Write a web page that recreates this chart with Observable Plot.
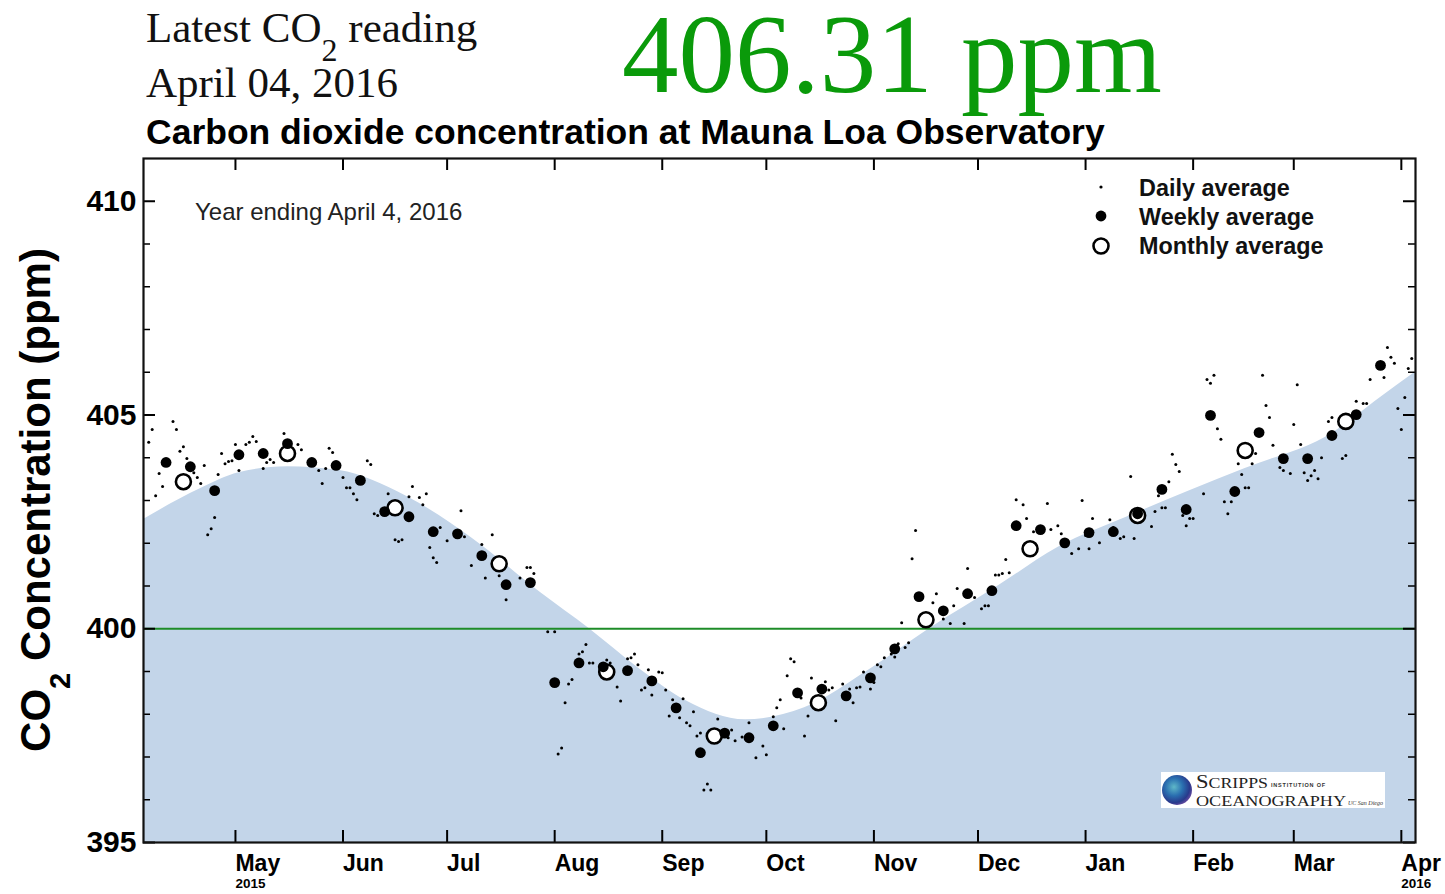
<!DOCTYPE html>
<html><head><meta charset="utf-8">
<script src="https://cdn.jsdelivr.net/npm/d3@7"></script>
<script src="https://cdn.jsdelivr.net/npm/@observablehq/plot@0.6"></script>
<style>
html,body{margin:0;padding:0;background:#fff;}
#wrap{position:relative;width:1445px;height:894px;overflow:hidden;}
#chart{position:absolute;left:0;top:0;}
#overlay{position:absolute;left:0;top:0;}
</style></head>
<body>
<div id="wrap">
<div id="chart"></div>
<svg id="overlay" width="1445" height="894" xmlns="http://www.w3.org/2000/svg">
  <defs>
    <radialGradient id="globe" cx="40%" cy="40%" r="65%">
      <stop offset="0%" stop-color="#5fb8c8"/>
      <stop offset="45%" stop-color="#2a6fb0"/>
      <stop offset="80%" stop-color="#283a8c"/>
      <stop offset="100%" stop-color="#6a4aa0"/>
    </radialGradient>
  </defs>
  <g font-family="'Liberation Serif','Times New Roman',serif" fill="#111">
    <text x="146" y="42" font-size="43">Latest CO<tspan font-size="32" dy="19">2</tspan><tspan dy="-19"> reading</tspan></text>
    <text x="146" y="97" font-size="43">April 04, 2016</text>
    <text x="622" y="92" font-size="113" fill="#0a9a0a">406.31 ppm</text>
  </g>
  <text x="146" y="144" font-family="'Liberation Sans',Arial,sans-serif" font-weight="bold" font-size="35.5" fill="#000">Carbon dioxide concentration at Mauna Loa Observatory</text>
  <text transform="translate(50,500) rotate(-90)" text-anchor="middle" font-family="'Liberation Sans',Arial,sans-serif" font-weight="bold" font-size="42" fill="#000">CO<tspan font-size="29" dy="20">2</tspan><tspan dy="-20"> Concentration (ppm)</tspan></text>
  <text x="195" y="220" font-family="'Liberation Sans',Arial,sans-serif" font-size="24" fill="#222">Year ending April 4, 2016</text>
  <g font-family="'Liberation Sans',Arial,sans-serif" font-weight="bold" font-size="23.4" fill="#111">
    <circle cx="1101" cy="187" r="1.6" fill="#000"/>
    <text x="1139" y="196">Daily average</text>
    <circle cx="1101" cy="216" r="5.4" fill="#000"/>
    <text x="1139" y="225">Weekly average</text>
    <circle cx="1101" cy="246" r="7.5" fill="#fff" stroke="#000" stroke-width="2.6"/>
    <text x="1139" y="254">Monthly average</text>
  </g>
  <g>
    <rect x="1161" y="772" width="224" height="36" fill="#fff"/>
    <circle cx="1177" cy="790" r="15" fill="url(#globe)"/>
    <text x="1196" y="788" font-family="'Liberation Serif',serif" font-size="19" fill="#222" textLength="72" lengthAdjust="spacingAndGlyphs">S<tspan font-size="15">CRIPPS</tspan></text>
    <text x="1271" y="787" font-family="'Liberation Sans',sans-serif" font-weight="bold" font-size="5.5" fill="#333" letter-spacing="0.8">INSTITUTION OF</text>
    <text x="1196" y="806" font-family="'Liberation Serif',serif" font-size="15.5" fill="#222" textLength="150" lengthAdjust="spacingAndGlyphs">OCEANOGRAPHY</text>
    <text x="1348" y="805" font-family="'Liberation Serif',serif" font-style="italic" font-size="6" fill="#333">UC San Diego</text>
  </g>
</svg>
</div>
<script>
// ---------- data ----------
const monthTicks = ["2015-05-01","2015-06-01","2015-07-01","2015-08-01","2015-09-01","2015-10-01","2015-11-01","2015-12-01","2016-01-01","2016-02-01","2016-03-01","2016-04-01"];
const yearLabelDates = ["2015-05-01","2016-04-01"];
const yearLabelTexts = ["2015","2016"];
const yMajorTicks = [395, 400, 405, 410];
const yMinorTicks = [396,397,398,399,401,402,403,404,406,407,408,409];
const thresholdPpm = 400;

const weeklyDates = ["2015-04-11","2015-04-18","2015-04-25","2015-05-02","2015-05-09","2015-05-16","2015-05-23","2015-05-30","2015-06-06","2015-06-13","2015-06-20","2015-06-27","2015-07-04","2015-07-11","2015-07-18","2015-07-25","2015-08-01","2015-08-08","2015-08-15","2015-08-22","2015-08-29","2015-09-05","2015-09-12","2015-09-19","2015-09-26","2015-10-03","2015-10-10","2015-10-17","2015-10-24","2015-10-31","2015-11-07","2015-11-14","2015-11-21","2015-11-28","2015-12-05","2015-12-12","2015-12-19","2015-12-26","2016-01-02","2016-01-09","2016-01-16","2016-01-23","2016-01-30","2016-02-06","2016-02-13","2016-02-20","2016-02-27","2016-03-05","2016-03-12","2016-03-19","2016-03-26"];
const weeklyPpm = [403.89,403.79,403.23,404.07,404.10,404.33,403.89,403.82,403.47,402.74,402.62,402.27,402.22,401.71,401.03,401.08,398.74,399.20,399.11,399.02,398.78,398.15,397.10,397.56,397.45,397.73,398.50,398.59,398.43,398.85,399.53,400.75,400.42,400.82,400.89,402.41,402.32,402.01,402.25,402.27,402.69,403.26,402.79,404.99,403.21,404.59,403.98,403.98,404.52,405.01,406.16];

const monthlyDates = ["2015-04-16","2015-05-16","2015-06-16","2015-07-16","2015-08-16","2015-09-16","2015-10-16","2015-11-16","2015-12-16","2016-01-16","2016-02-16","2016-03-16"];
const monthlyPpm = [403.44,404.10,402.83,401.52,398.99,397.49,398.27,400.21,401.87,402.65,404.17,404.85];

const curveDates = ["2015-04-04","2015-04-21","2015-05-02","2015-05-16","2015-05-31","2015-06-19","2015-07-08","2015-07-28","2015-08-11","2015-08-25","2015-09-08","2015-09-25","2015-10-12","2015-10-31","2015-11-17","2015-12-07","2015-12-24","2016-01-14","2016-01-31","2016-02-16","2016-03-12","2016-03-26","2016-04-05"];
const curvePpm = [402.53,403.28,403.65,403.79,403.70,403.11,402.13,400.84,400.00,399.09,398.31,397.87,398.15,399.06,400.00,401.01,401.90,402.65,403.23,403.75,404.57,405.41,406.00];

const daily = [
["2015-04-06",404.36],["2015-04-07",404.66],["2015-04-08",403.11],["2015-04-09",403.63],["2015-04-10",403.33],
["2015-04-13",404.85],["2015-04-14",404.66],["2015-04-15",404.15],["2015-04-16",404.26],["2015-04-17",403.98],
["2015-04-19",403.65],["2015-04-20",403.54],["2015-04-21",403.40],["2015-04-22",403.82],["2015-04-23",402.20],
["2015-04-24",402.34],["2015-04-25",402.60],["2015-04-26",403.61],["2015-04-27",404.10],["2015-04-28",403.86],
["2015-04-29",403.91],["2015-04-30",403.93],["2015-05-01",404.31],["2015-05-02",403.70],["2015-05-04",404.31],
["2015-05-05",404.36],["2015-05-06",404.50],["2015-05-07",404.38],["2015-05-09",403.75],["2015-05-10",403.89],
["2015-05-11",403.96],["2015-05-12",403.89],["2015-05-15",404.57],["2015-05-19",404.31],["2015-05-20",404.19],
["2015-05-25",403.70],["2015-05-26",403.40],["2015-05-27",403.75],["2015-05-28",404.22],["2015-05-29",404.12],
["2015-06-01",403.54],["2015-06-02",403.30],["2015-06-03",403.30],["2015-06-04",403.16],["2015-06-05",403.02],
["2015-06-08",403.93],["2015-06-09",403.84],["2015-06-10",402.69],["2015-06-11",402.65],["2015-06-14",403.16],
["2015-06-16",402.08],["2015-06-17",402.04],["2015-06-18",402.08],["2015-06-20",403.09],["2015-06-21",403.33],
["2015-06-23",403.07],["2015-06-24",402.90],["2015-06-25",403.16],["2015-06-26",401.90],["2015-06-27",401.66],
["2015-06-28",401.55],["2015-06-29",402.37],["2015-07-01",402.06],["2015-07-05",402.76],["2015-07-06",402.15],
["2015-07-08",401.48],["2015-07-11",401.97],["2015-07-12",401.19],["2015-07-14",402.20],["2015-07-16",401.24],
["2015-07-18",400.68],["2015-07-22",401.19],["2015-07-24",401.43],["2015-07-25",401.43],["2015-07-26",401.29],
["2015-07-30",399.93],["2015-08-01",399.93],["2015-08-02",397.07],["2015-08-03",397.21],["2015-08-04",398.27],
["2015-08-05",398.71],["2015-08-06",398.81],["2015-08-08",399.41],["2015-08-09",399.46],["2015-08-10",399.63],
["2015-08-11",399.20],["2015-08-12",399.20],["2015-08-16",399.27],["2015-08-17",399.20],["2015-08-19",398.64],
["2015-08-20",398.31],["2015-08-22",399.30],["2015-08-23",399.32],["2015-08-24",399.41],["2015-08-25",399.16],
["2015-08-26",398.57],["2015-08-27",398.62],["2015-08-28",399.04],["2015-08-29",398.45],["2015-08-31",398.99],
["2015-09-01",398.97],["2015-09-02",398.57],["2015-09-03",397.96],["2015-09-04",398.34],["2015-09-06",397.92],
["2015-09-07",398.36],["2015-09-08",397.80],["2015-09-09",397.73],["2015-09-10",398.06],["2015-09-11",397.49],
["2015-09-12",397.56],["2015-09-13",396.23],["2015-09-14",396.37],["2015-09-15",396.23],["2015-09-17",397.89],
["2015-09-20",397.45],["2015-09-21",397.63],["2015-09-22",397.38],["2015-09-24",397.47],["2015-09-26",397.80],
["2015-09-27",397.45],["2015-09-28",396.98],["2015-09-30",397.26],["2015-10-01",397.05],["2015-10-03",397.94],
["2015-10-04",398.15],["2015-10-05",398.34],["2015-10-06",397.66],["2015-10-07",398.90],["2015-10-08",399.30],
["2015-10-09",399.23],["2015-10-11",398.38],["2015-10-12",397.49],["2015-10-13",397.96],["2015-10-14",398.85],
["2015-10-18",398.76],["2015-10-19",398.57],["2015-10-20",398.62],["2015-10-21",397.85],["2015-10-23",398.71],
["2015-10-25",398.59],["2015-10-26",398.27],["2015-10-27",398.62],["2015-10-28",398.64],["2015-10-29",398.99],
["2015-10-31",398.59],["2015-11-01",398.74],["2015-11-02",399.16],["2015-11-03",399.11],["2015-11-04",399.32],
["2015-11-06",399.41],["2015-11-07",399.34],["2015-11-08",399.65],["2015-11-09",400.14],["2015-11-10",399.56],
["2015-11-11",399.67],["2015-11-12",401.64],["2015-11-13",402.30],["2015-11-18",400.61],["2015-11-19",400.82],
["2015-11-21",400.23],["2015-11-23",400.12],["2015-11-24",400.54],["2015-11-25",400.94],["2015-11-27",400.12],
["2015-11-28",401.41],["2015-11-30",400.73],["2015-12-02",400.47],["2015-12-03",400.54],["2015-12-04",400.54],
["2015-12-06",401.26],["2015-12-07",401.26],["2015-12-08",401.29],["2015-12-09",401.62],["2015-12-10",401.31],
["2015-12-12",403.02],["2015-12-14",402.90],["2015-12-15",402.58],["2015-12-17",402.27],["2015-12-21",402.93],
["2015-12-22",402.32],["2015-12-24",402.41],["2015-12-25",402.22],["2015-12-28",401.76],["2015-12-30",401.87],
["2015-12-31",403.00],["2016-01-01",402.18],["2016-01-02",401.87],["2016-01-03",402.58],["2016-01-05",402.01],
["2016-01-08",402.55],["2016-01-09",402.37],["2016-01-11",402.11],["2016-01-12",402.15],["2016-01-14",403.56],
["2016-01-15",402.11],["2016-01-20",402.39],["2016-01-21",402.74],["2016-01-22",403.11],["2016-01-23",402.83],
["2016-01-24",402.83],["2016-01-25",403.44],["2016-01-26",404.08],["2016-01-27",403.84],["2016-01-28",403.68],
["2016-01-29",402.65],["2016-01-30",402.41],["2016-01-31",402.58],["2016-02-01",402.58],["2016-02-04",403.16],
["2016-02-05",405.83],["2016-02-06",405.74],["2016-02-07",405.93],["2016-02-08",404.68],["2016-02-09",404.43],
["2016-02-10",402.97],["2016-02-11",402.69],["2016-02-12",402.97],["2016-02-14",403.86],["2016-02-15",403.61],
["2016-02-16",403.30],["2016-02-17",403.30],["2016-02-18",403.86],["2016-02-19",404.10],["2016-02-21",405.93],
["2016-02-22",405.22],["2016-02-23",404.94],["2016-02-24",404.29],["2016-02-26",403.77],["2016-02-27",403.70],
["2016-02-29",403.63],["2016-03-01",404.78],["2016-03-02",405.71],["2016-03-03",404.31],["2016-03-04",403.65],
["2016-03-05",403.47],["2016-03-06",403.58],["2016-03-07",403.70],["2016-03-08",403.51],["2016-03-09",404.00],
["2016-03-11",404.85],["2016-03-12",404.94],["2016-03-15",403.98],["2016-03-16",404.05],["2016-03-19",405.32],
["2016-03-21",405.27],["2016-03-22",405.27],["2016-03-23",405.83],["2016-03-27",405.88],["2016-03-28",406.58],
["2016-03-29",406.35],["2016-03-30",406.21],["2016-03-31",405.15],["2016-04-01",404.66],["2016-04-02",405.41],
["2016-04-03",406.09],["2016-04-04",406.32]
];

// ---------- build tables ----------
const parse = d3.utcParse("%Y-%m-%d");
const weeklyData = weeklyDates.map((d, i) => ({date: parse(d), ppm: weeklyPpm[i]}));
const monthlyData = monthlyDates.map((d, i) => ({date: parse(d), ppm: monthlyPpm[i]}));
const curveData = curveDates.map((d, i) => ({date: parse(d), ppm: curvePpm[i]}));
const dailyData = daily.map(([d, v]) => ({date: parse(d), ppm: v}));
const monthDates = monthTicks.map(parse);
const yearLabels = yearLabelDates.map((d, i) => ({date: parse(d), label: yearLabelTexts[i]}));

// ---------- layout ----------
const W = 1445, H = 894, mL = 143, mR = 30, mT = 158, mB = 52;
const plotW = W - mL - mR, plotH = H - mT - mB;
const majorLen = 12, minorLen = 7;

const chart = Plot.plot({
  width: W, height: H,
  marginLeft: mL, marginRight: mR, marginTop: mT, marginBottom: mB,
  style: {fontFamily: "'Liberation Sans', Arial, sans-serif", background: "transparent", overflow: "visible", color: "#000"},
  x: {type: "utc", domain: [new Date(Date.UTC(2015, 3, 4, 12)), new Date(Date.UTC(2016, 3, 5, 2))]},
  y: {domain: [395, 411]},
  marks: [
    Plot.areaY(curveData, {x: "date", y: "ppm", fill: "#c3d5e9", curve: "monotone-x", clip: true}),
    Plot.ruleY([thresholdPpm], {stroke: "#1e8c28", strokeWidth: 2}),
    Plot.dot(dailyData, {x: "date", y: "ppm", r: 1.5, fill: "#000"}),
    Plot.dot(monthlyData, {x: "date", y: "ppm", r: 7.5, fill: "#fff", stroke: "#000", strokeWidth: 2.6}),
    Plot.dot(weeklyData, {x: "date", y: "ppm", r: 5.4, fill: "#000"}),
    // inward ticks: left, right
    Plot.tickY(yMajorTicks, {y: d => d, insetRight: plotW - majorLen, stroke: "#000", strokeWidth: 2}),
    Plot.tickY(yMinorTicks, {y: d => d, insetRight: plotW - minorLen, stroke: "#000", strokeWidth: 1.5}),
    Plot.tickY(yMajorTicks, {y: d => d, insetLeft: plotW - majorLen, stroke: "#000", strokeWidth: 2}),
    Plot.tickY(yMinorTicks, {y: d => d, insetLeft: plotW - minorLen, stroke: "#000", strokeWidth: 1.5}),
    // inward ticks: bottom, top
    Plot.tickX(monthDates, {x: d => d, insetTop: plotH - majorLen, stroke: "#000", strokeWidth: 2}),
    Plot.tickX(monthDates, {x: d => d, insetBottom: plotH - majorLen, stroke: "#000", strokeWidth: 2}),
    Plot.frame({stroke: "#111", strokeWidth: 2.2}),
    Plot.axisY({ticks: yMajorTicks, tickSize: 0, tickPadding: 7, fontSize: 30, fontWeight: "bold", label: null}),
    Plot.axisX({ticks: monthDates, tickSize: 0, tickPadding: 12, tickFormat: d3.utcFormat("%b"), textAnchor: "start", fontSize: 23, fontWeight: "bold", label: null}),
    Plot.text(yearLabels, {x: "date", text: "label", frameAnchor: "bottom", dy: 45, textAnchor: "start", fontSize: 13.5, fontWeight: "bold"})
  ]
});
document.getElementById("chart").appendChild(chart);
</script>
</body></html>
